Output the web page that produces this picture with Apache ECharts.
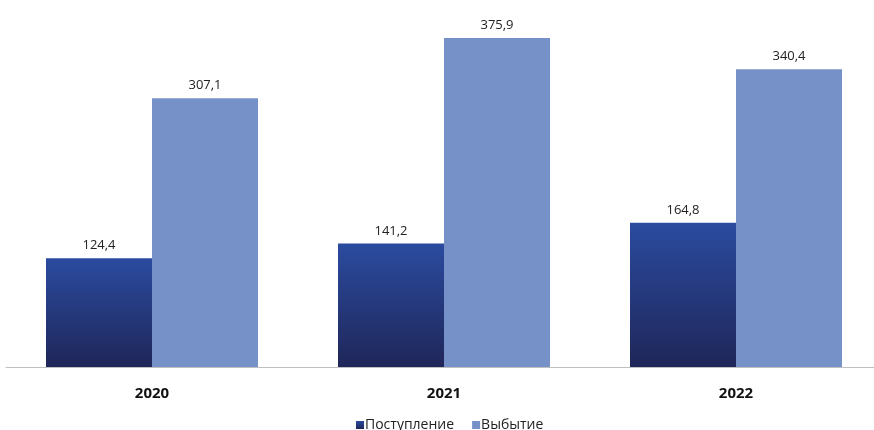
<!DOCTYPE html>
<html><head><meta charset="utf-8">
<script src="https://cdn.jsdelivr.net/npm/echarts@6/dist/echarts.min.js"></script>
<style>html,body{margin:0;padding:0;background:#fff;overflow:hidden;width:874px;height:430px}#c{width:882px;height:430px}</style>
</head><body><div id="c"></div>
<script>
const categories = ['2020', '2021', '2022'];
const seriesNames = ['Поступление', 'Выбытие'];
const inflow = [124.4, 141.2, 164.8];
const outflow = [307.1, 375.9, 340.4];

const chart = echarts.init(document.getElementById('c'));
const fmt = p => String(p.value.toFixed(1)).replace('.', ',');
const font = '"Open Sans", sans-serif';
chart.setOption({
  animation: false,
  textStyle: { fontFamily: font },
  grid: { left: 6, top: 17, right: 0, height: 350, containLabel: false },
  legend: {
    top: 418, left: 356, padding: 0, itemWidth: 8, itemHeight: 8, itemGap: 18,
    icon: 'rect',
    textStyle: { fontFamily: font, fontSize: 14, color: '#222', padding: [0, 0, 0, -4] },
    data: seriesNames
  },
  xAxis: {
    type: 'category', data: categories,
    axisLine: { lineStyle: { color: '#bfbfbf', width: 1 } },
    axisTick: { show: false },
    axisLabel: { fontFamily: font, fontSize: 15, fontWeight: 'bold', color: '#111', margin: 19 }
  },
  yAxis: { type: 'value', min: 0, max: 400, show: false, splitLine: { show: false } },
  series: [
    {
      name: seriesNames[0], type: 'bar', data: inflow, barWidth: 106, barGap: '0%',
      itemStyle: {
        color: new echarts.graphic.LinearGradient(0, 0, 0, 1, [
          { offset: 0, color: '#2b4b9f' }, { offset: 1, color: '#1f2659' }
        ])
      },
      label: { show: true, position: 'top', distance: 6, formatter: fmt, fontFamily: font, fontSize: 13, color: '#222' }
    },
    {
      name: seriesNames[1], type: 'bar', data: outflow, barWidth: 106,
      itemStyle: { color: '#7691c8' },
      label: { show: true, position: 'top', distance: 6, formatter: fmt, fontFamily: font, fontSize: 13, color: '#222' }
    }
  ]
});
</script></body></html>
